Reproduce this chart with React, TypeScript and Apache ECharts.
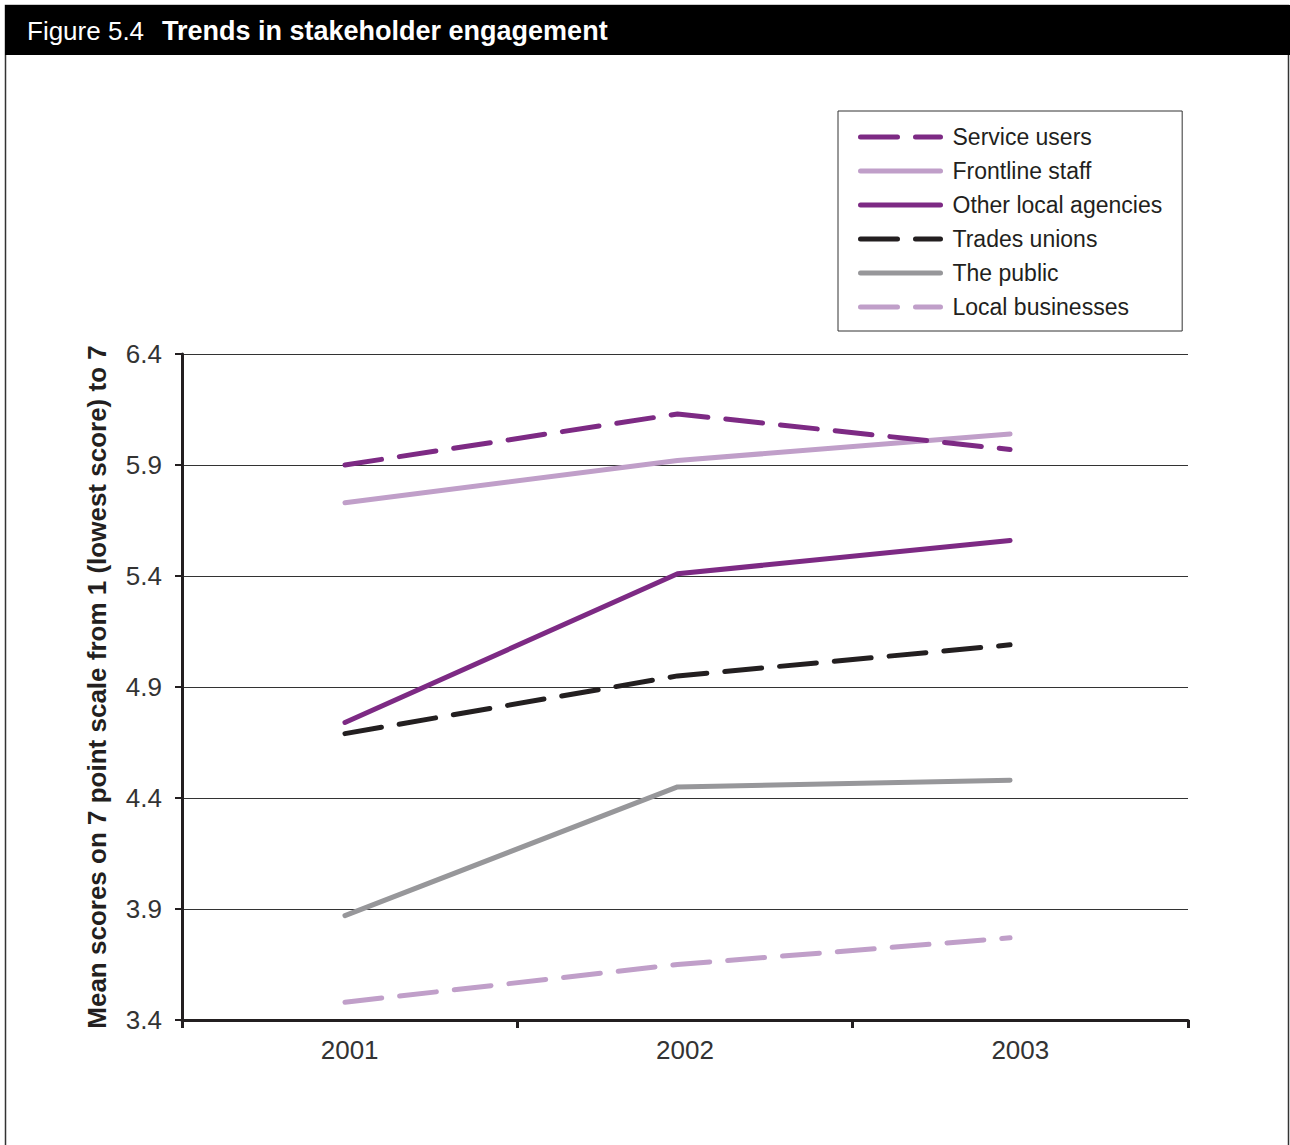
import React, { useEffect, useRef } from "react";
import * as echarts from "echarts";

const years = ["2001", "2002", "2003"];
const serviceUsers = [5.9, 6.13, 5.97];
const frontlineStaff = [5.73, 5.92, 6.04];
const otherAgencies = [4.74, 5.41, 5.56];
const tradesUnions = [4.69, 4.95, 5.09];
const thePublic = [3.87, 4.45, 4.48];
const localBusinesses = [3.48, 3.65, 3.77];

const seriesNames = [
  "Service users",
  "Frontline staff",
  "Other local agencies",
  "Trades unions",
  "The public",
  "Local businesses",
];
const seriesData = [serviceUsers, frontlineStaff, otherAgencies, tradesUnions, thePublic, localBusinesses];
const seriesColors = ["#7d2a84", "#c09fc9", "#7d2a84", "#231f20", "#97979a", "#c09fc9"];
const seriesDashed = [true, false, false, true, false, true];

const FONT = "'Liberation Sans', Arial, Helvetica, sans-serif";

export default function App() {
  const ref = useRef<HTMLDivElement>(null);
  useEffect(() => {
    if (!ref.current) return;
    const chart = echarts.init(ref.current, undefined, { renderer: "svg" });
    chart.setOption({
      animation: false,
      backgroundColor: "#ffffff",
      textStyle: { fontFamily: FONT },
      graphic: [
        {
          type: "rect",
          shape: { x: 5.5, y: 5.5, width: 1283, height: 1160 },
          style: { fill: "none", stroke: "#333333", lineWidth: 1.5 },
          silent: true,
        },
        {
          type: "rect",
          shape: { x: 5, y: 5, width: 1285, height: 50 },
          style: { fill: "#000000" },
          silent: true,
        },
        {
          type: "text",
          x: 27,
          y: 31,
          style: {
            text: "Figure 5.4",
            fill: "#ffffff",
            fontSize: 26,
            fontFamily: FONT,
            verticalAlign: "middle",
          },
          silent: true,
        },
        {
          type: "text",
          x: 162,
          y: 31,
          style: {
            text: "Trends in stakeholder engagement",
            fill: "#ffffff",
            fontSize: 27,
            fontWeight: "bold",
            fontFamily: FONT,
            verticalAlign: "middle",
          },
          silent: true,
        },
      ],
      legend: {
        orient: "vertical",
        left: 838,
        top: 111,
        width: 345,
        padding: [14, 20, 12, 20],
        borderColor: "#333333",
        borderWidth: 1,
        itemWidth: 80,
        itemHeight: 14,
        itemGap: 10,
        itemStyle: { opacity: 0 },
        lineStyle: { width: 5, cap: "round" },
        textStyle: { fontSize: 23, color: "#231f20", lineHeight: 24, fontFamily: FONT, padding: [0, 0, 0, 7] },
        data: seriesNames,
      },
      grid: { left: 182, top: 354, right: 102, bottom: 125 },
      xAxis: [
        {
          type: "category",
          data: years,
          boundaryGap: true,
          axisLine: { onZero: false, lineStyle: { color: "#231f20", width: 3 } },
          axisTick: { show: true, length: 8, lineStyle: { color: "#231f20", width: 3 } },
          axisLabel: { fontSize: 26, color: "#333333", margin: 17, fontFamily: FONT },
        },
        {
          type: "value",
          min: -0.49,
          max: 2.535,
          show: false,
          splitLine: { show: false },
        },
      ],
      yAxis: {
        type: "value",
        min: 3.4,
        max: 6.4,
        interval: 0.5,
        name: "Mean scores on 7 point scale from 1 (lowest score) to 7",
        nameLocation: "middle",
        nameGap: 72,
        nameTextStyle: { fontSize: 26, fontWeight: "bold", color: "#231f20", fontFamily: FONT },
        axisLine: { show: true, onZero: false, lineStyle: { color: "#231f20", width: 3 } },
        axisTick: { show: true, length: 7, lineStyle: { color: "#231f20", width: 2 } },
        axisLabel: {
          fontSize: 26,
          color: "#333333",
          margin: 20,
          fontFamily: FONT,
          formatter: (v: number) => v.toFixed(1),
        },
        splitLine: { show: true, lineStyle: { color: "#333333", width: 1 } },
      },
      series: seriesNames.map((name, i) => ({
        name,
        type: "line",
        xAxisIndex: 1,
        data: seriesData[i].map((v, j) => [j, v]),
        symbol: "none",
        showSymbol: false,
        z: 10 - i,
        lineStyle: {
          color: seriesColors[i],
          width: 5,
          type: seriesDashed[i] ? [37, 18] : "solid",
          cap: "round",
        },
        itemStyle: { color: seriesColors[i] },
      })),
    });
    return () => chart.dispose();
  }, []);
  return (
    <div
      ref={ref}
      style={{ position: "absolute", left: 0, top: 0, width: 1290, height: 1145 }}
    />
  );
}
